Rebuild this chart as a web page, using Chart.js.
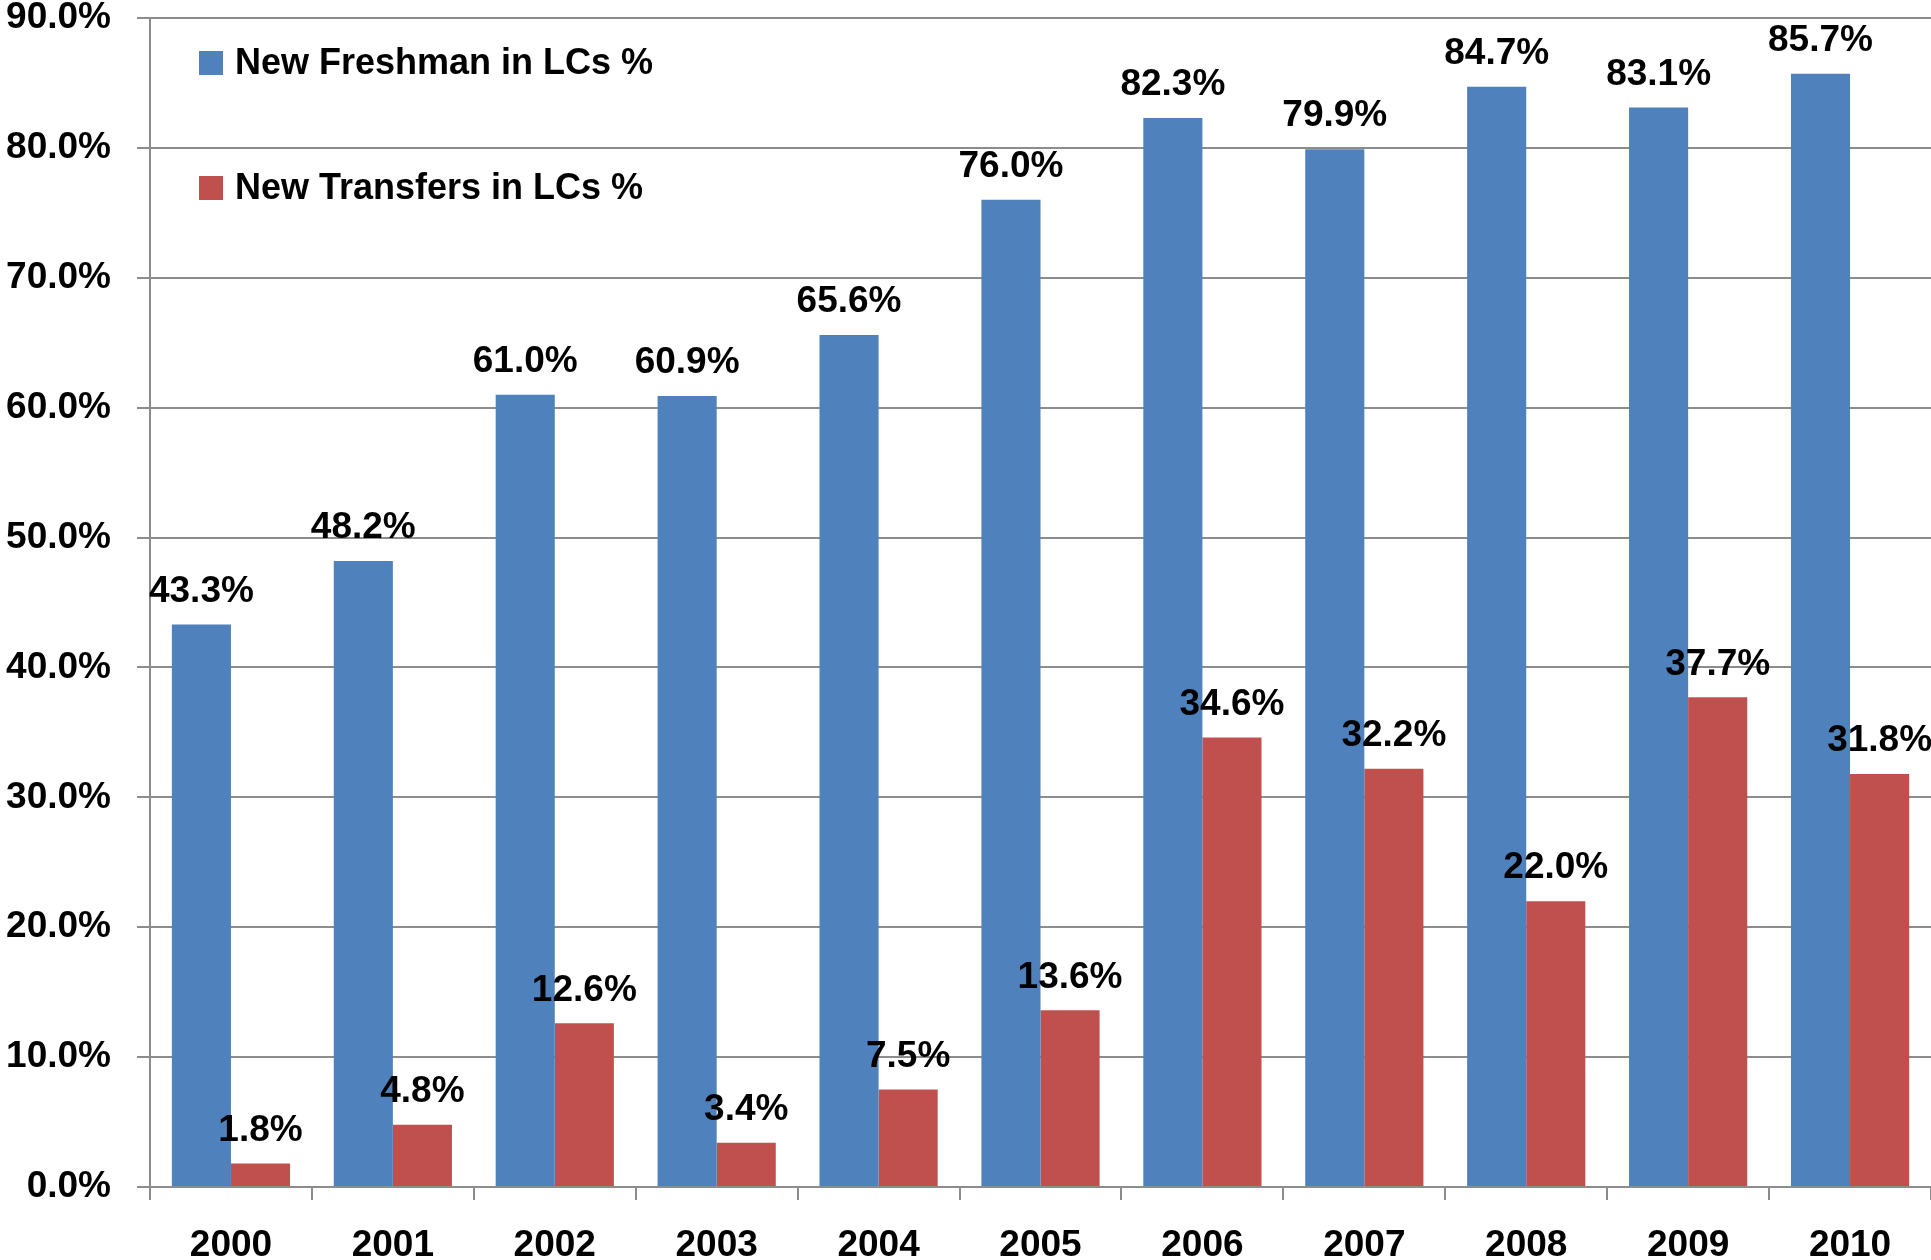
<!DOCTYPE html>
<html>
<head>
<meta charset="utf-8">
<title>Learning Communities</title>
<script src="https://cdn.jsdelivr.net/npm/chart.js@4.4.1/dist/chart.umd.min.js"></script>
<style>
  html, body { margin: 0; padding: 0; background: #fff; }
  #wrap { width: 1931px; height: 1260px; position: relative; }
</style>
</head>
<body>
<div id="wrap"><canvas id="lcChart"></canvas></div>
<script>
const years = ['2000', '2001', '2002', '2003', '2004', '2005', '2006', '2007', '2008', '2009', '2010'];
const freshmanPct = [43.3, 48.2, 61.0, 60.9, 65.6, 76.0, 82.3, 79.9, 84.7, 83.1, 85.7];
const transferPct = [1.8, 4.8, 12.6, 3.4, 7.5, 13.6, 34.6, 32.2, 22.0, 37.7, 31.8];
const yTicks = [0, 10, 20, 30, 40, 50, 60, 70, 80, 90];

const FONT = '"Liberation Sans", Arial, sans-serif';
const gridGray = '#8c8c8c';

// value labels above each bar
const barLabels = {
  id: 'barLabels',
  afterDatasetsDraw(chart) {
    const ctx = chart.ctx;
    ctx.save();
    ctx.font = 'bold 37px ' + FONT;
    ctx.fillStyle = '#000';
    ctx.textAlign = 'center';
    ctx.textBaseline = 'middle';
    chart.data.datasets.forEach((ds, i) => {
      chart.getDatasetMeta(i).data.forEach((bar, j) => {
        ctx.fillText(ds.data[j].toFixed(1) + '%', bar.x, bar.y - 33);
      });
    });
    ctx.restore();
  }
};

// legend drawn inside the plot, top left
const innerLegend = {
  id: 'innerLegend',
  afterDraw(chart) {
    const ctx = chart.ctx;
    ctx.save();
    ctx.font = 'bold 36px ' + FONT;
    ctx.textBaseline = 'middle';
    const rows = [63, 188];
    chart.data.datasets.forEach((ds, i) => {
      ctx.fillStyle = ds.backgroundColor;
      ctx.fillRect(199, rows[i] - 12, 24, 24);
      ctx.fillStyle = '#000';
      ctx.fillText(ds.label, 235, rows[i] + 1);
    });
    ctx.restore();
  }
};

new Chart(document.getElementById('lcChart').getContext('2d'), {
  type: 'bar',
  data: {
    labels: years,
    datasets: [
      {
        label: 'New Freshman in LCs %',
        data: freshmanPct,
        backgroundColor: '#4F81BD',
        categoryPercentage: 0.73,
        barPercentage: 1.0
      },
      {
        label: 'New Transfers in LCs %',
        data: transferPct,
        backgroundColor: '#C0504D',
        categoryPercentage: 0.73,
        barPercentage: 1.0
      }
    ]
  },
  options: {
    responsive: true,
    maintainAspectRatio: false,
    animation: false,
    layout: { padding: { top: 18, right: 0, left: 0, bottom: 0 } },
    plugins: {
      legend: { display: false },
      tooltip: { enabled: false }
    },
    scales: {
      x: {
        afterFit: (scale) => {
          scale.height = 73;
          scale.paddingLeft = 0;
          scale.paddingRight = 0;
        },
        grid: {
          display: true,
          drawOnChartArea: false,
          drawTicks: true,
          tickLength: 13,
          color: gridGray,
          lineWidth: 2
        },
        border: { color: gridGray, width: 2 },
        ticks: {
          color: '#000',
          padding: 27,
          maxRotation: 0,
          font: { family: FONT, size: 37, weight: 'bold', lineHeight: 1 }
        }
      },
      y: {
        min: 0,
        max: 90,
        afterFit: (scale) => {
          scale.width = 150;
          scale.paddingTop = 0;
          scale.paddingBottom = 0;
        },
        afterBuildTicks: (scale) => { scale.ticks = yTicks.map(v => ({ value: v })); },
        grid: {
          color: gridGray,
          lineWidth: 2,
          drawTicks: true,
          tickLength: 13
        },
        border: { color: gridGray, width: 2 },
        ticks: {
          color: '#000',
          padding: 26,
          callback: (v) => v.toFixed(1) + '%',
          font: { family: FONT, size: 37, weight: 'bold', lineHeight: 1 }
        }
      }
    }
  },
  plugins: [barLabels, innerLegend]
});
</script>
</body>
</html>
